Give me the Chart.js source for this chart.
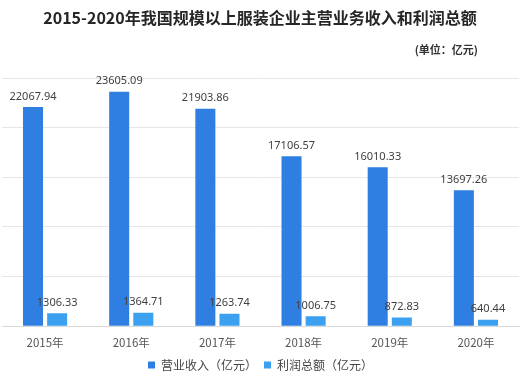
<!DOCTYPE html>
<html><head><meta charset="utf-8">
<script src="https://cdn.jsdelivr.net/npm/chart.js@4/dist/chart.umd.min.js"></script>
<style>html,body{margin:0;padding:0;background:#fff}#wrap{width:529px;height:381px;position:relative}</style>
</head><body><div id="wrap"><canvas id="c"></canvas></div>
<script>
const categories = ['2015年','2016年','2017年','2018年','2019年','2020年'];
const revenue = [22067.94, 23605.09, 21903.86, 17106.57, 16010.33, 13697.26];
const profit = [1306.33, 1364.71, 1263.74, 1006.75, 872.83, 640.44];
const revenueLabel = '营业收入（亿元）';
const profitLabel = '利润总额（亿元）';
const titleText = '2015-2020年我国规模以上服装企业主营业务收入和利润总额';
const unitText = '(单位：亿元)';

const CJK = '"Noto Sans CJK SC","Noto Sans",sans-serif';

const labelPlugin = {
  id: 'labels',
  afterDatasetsDraw(chart) {
    const ctx = chart.ctx;
    ctx.save();
    ctx.font = '11px "Noto Sans", sans-serif';
    ctx.fillStyle = '#404040';
    ctx.textAlign = 'center';
    ctx.textBaseline = 'bottom';
    chart.data.datasets.forEach((ds, i) => {
      chart.getDatasetMeta(i).data.forEach((el, j) => {
        ctx.fillText(ds.data[j].toFixed(2), el.x, el.y - 5);
      });
    });
    ctx.restore();
  }
};
const titlePlugin = {
  id: 'titles',
  afterDraw(chart) {
    const ctx = chart.ctx;
    ctx.save();
    ctx.fillStyle = '#262626';
    ctx.textBaseline = 'middle';
    ctx.font = 'bold 16px ' + CJK;
    ctx.textAlign = 'center';
    ctx.fillText(titleText, 260, 18);
    ctx.font = 'bold 11px ' + CJK;
    ctx.textAlign = 'right';
    ctx.fillStyle = '#333';
    ctx.fillText(unitText, 478, 50);
    ctx.restore();
  }
};

new Chart(document.getElementById('c'), {
  type: 'bar',
  data: {
    labels: categories,
    datasets: [
      { label: revenueLabel, data: revenue, backgroundColor: '#2f7fe2', categoryPercentage: 0.56, barPercentage: 0.83 },
      { label: profitLabel, data: profit, backgroundColor: '#3ba0f0', categoryPercentage: 0.56, barPercentage: 0.83 }
    ]
  },
  options: {
    responsive: true,
    maintainAspectRatio: false,
    animation: false,
    layout: { padding: { top: 78, left: 2, right: 10, bottom: 0 } },
    plugins: {
      legend: {
        position: 'bottom',
        labels: { boxWidth: 7, boxHeight: 7, font: { size: 12, family: CJK }, color: '#444', padding: 7 }
      },
      tooltip: { enabled: false },
      title: { display: false }
    },
    scales: {
      x: {
        grid: { display: false },
        border: { color: '#d9d9d9' },
        ticks: { font: { size: 11.5, family: CJK }, color: '#555', padding: 2 }
      },
      y: {
        min: 0, max: 25000,
        ticks: { display: false, stepSize: 5000 },
        grid: { color: '#e6e6e6', drawTicks: false },
        border: { display: false }
      }
    }
  },
  plugins: [labelPlugin, titlePlugin]
});
</script></body></html>
